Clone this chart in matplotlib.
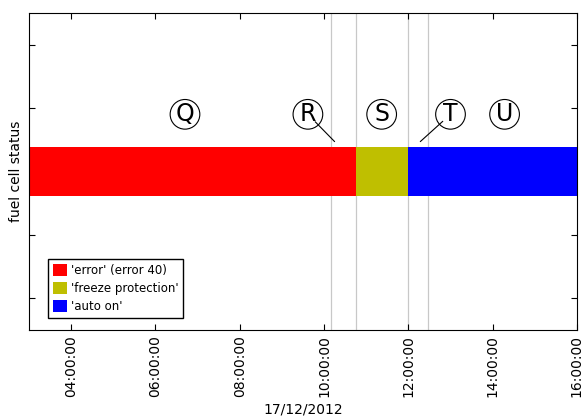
import datetime as dt
import matplotlib
matplotlib.use("Agg")
from matplotlib import pyplot as plt
import matplotlib.dates as mdates
from matplotlib.patches import Patch

day = dt.date(2012, 12, 17)


def t(hh, mm=0):
    return dt.datetime(day.year, day.month, day.day, hh, mm)


# status periods (start, end, label, colour)
status_starts = [t(3, 0), t(10, 45), t(12, 0)]
status_ends = [t(10, 45), t(12, 0), t(16, 0)]
status_labels = ["'error' (error 40)", "'freeze protection'", "'auto on'"]
status_colors = ["#ff0000", "#bfbf00", "#0000ff"]

# grey event markers
event_times = [t(10, 10), t(10, 45), t(12, 0), t(12, 28)]

# circled letters
letters = ["Q", "R", "S", "T", "U"]
letter_times = [t(6, 42), t(9, 37), t(11, 22), t(13, 0), t(14, 17)]
arrow_tips = [None, t(10, 15), None, t(12, 17), None]

status_level = 3

fig = plt.figure(figsize=(5.81, 4.19), dpi=100)
ax = fig.add_axes([0.05, 0.2124, 0.943, 0.757])

for x in event_times:
    ax.axvline(x, color="#c8c8c8", linewidth=0.9, zorder=1)

for s, e, lab, c in zip(status_starts, status_ends, status_labels, status_colors):
    x0 = mdates.date2num(s)
    w = mdates.date2num(e) - x0
    ax.broken_barh([(x0, w)], (status_level - 0.38, 0.76),
                   facecolors=c, edgecolor="none", zorder=2)

for lt, tip, txt in zip(letter_times, arrow_tips, letters):
    bbox = dict(boxstyle="circle,pad=0.12", fc="none", ec="black", lw=0.8)
    if tip is None:
        ax.annotate(txt, xy=(lt, 3.9), ha="center", va="center",
                    fontsize=17, bbox=bbox, zorder=3)
    else:
        ax.annotate(txt, xy=(tip, 3.47), xytext=(lt, 3.9),
                    ha="center", va="center", fontsize=17, bbox=bbox,
                    arrowprops=dict(arrowstyle="-", color="black", lw=0.8,
                                    patchA=None, shrinkA=7.5, shrinkB=0),
                    zorder=3)

ax.set_xlim(t(3, 0), t(16, 0))
ax.set_ylim(0.5, 5.5)
ax.set_yticks([1, 2, 3, 4, 5])
ax.set_yticklabels([])
ax.xaxis.set_major_locator(mdates.HourLocator(byhour=range(4, 17, 2)))
ax.xaxis.set_major_formatter(mdates.DateFormatter("%H:%M:%S"))
plt.setp(ax.get_xticklabels(), rotation=90, fontsize=10)
ax.tick_params(direction="in", top=True, right=True, length=4)

ax.set_xlabel("17/12/2012", fontsize=10)
ax.set_ylabel("fuel cell status", fontsize=10, labelpad=1)

handles = [Patch(facecolor=c, edgecolor="none") for c in status_colors]
leg = ax.legend(handles, status_labels, loc="lower left",
                bbox_to_anchor=(0.035, 0.038), borderaxespad=0,
                fontsize=8.5, fancybox=False,
                handlelength=1.2, handleheight=1.2, handletextpad=0.3,
                labelspacing=0.45, borderpad=0.4, framealpha=1)
leg.get_frame().set_edgecolor("black")
leg.get_frame().set_linewidth(1.0)

fig.savefig("out.png", dpi=100)
